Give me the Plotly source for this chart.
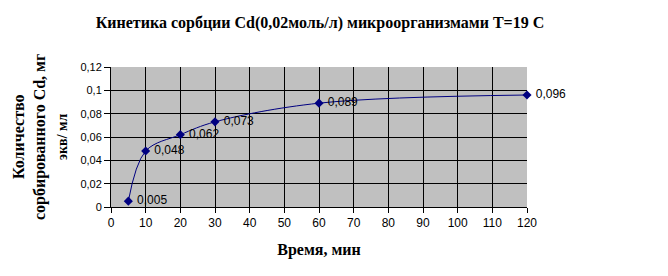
import plotly.graph_objects as go

time_min = [5, 10, 20, 30, 60, 120]
sorbed = [0.005, 0.048, 0.062, 0.073, 0.089, 0.096]
labels = ["0,005", "0,048", "0,062", "0,073", "0,089", "0,096"]
x_ticks = list(range(0, 121, 10))
y_ticks = [0, 0.02, 0.04, 0.06, 0.08, 0.1, 0.12]
y_tick_text = ["0", "0,02", "0,04", "0,06", "0,08", "0,1", "0,12"]

title = "Кинетика сорбции Cd(0,02моль/л) микроорганизмами T=19 C"
x_title = "Время, мин"

fig = go.Figure()
fig.add_trace(go.Scatter(
    x=time_min, y=sorbed, mode="lines+markers+text",
    line=dict(color="#000080", width=1, shape="spline", smoothing=1.0),
    marker=dict(symbol="diamond", size=7, color="#000080"),
    text=[" " + t for t in labels], textposition="middle right",
    textfont=dict(family="Liberation Sans", size=12, color="black"),
    cliponaxis=False, showlegend=False,
))

serif = "Liberation Serif"
fig.update_layout(
    width=668, height=276,
    margin=dict(l=111, r=141, t=67, b=69),
    paper_bgcolor="white", plot_bgcolor="#C0C0C0",
    title=dict(text="<b>" + title + "</b>", x=320 / 668, xanchor="center",
               y=1 - 22 / 276, yanchor="middle",
               font=dict(family=serif, size=16, color="black")),
    font=dict(family="Liberation Sans", size=11, color="black"),
)
fig.update_xaxes(
    range=[0, 120], tickvals=x_ticks, ticktext=[str(v) for v in x_ticks],
    showgrid=True, gridcolor="black", gridwidth=1,
    showline=True, linecolor="black", linewidth=1, mirror=False,
    ticks="outside", ticklen=5, tickcolor="black", zeroline=False,
    tickfont=dict(family="Liberation Sans", size=12, color="black"),
    title=dict(text="<b>" + x_title + "</b>", font=dict(family=serif, size=16, color="black"), standoff=14),
)
fig.update_yaxes(
    range=[0, 0.12], tickvals=y_ticks, ticktext=y_tick_text,
    showgrid=True, gridcolor="black", gridwidth=1,
    showline=True, linecolor="black", linewidth=1,
    ticks="outside", ticklen=6, tickcolor="black", zeroline=False,
    tickfont=dict(family="Liberation Sans", size=11, color="black"),
)

ann = [
    ("<b>Количество</b>", 18, 16),
    ("<b>сорбированного Cd, мг</b>", 40, 16),
    ("<b>экв/ мл</b>", 62, 14),
]
for txt, px, fs in ann:
    fig.add_annotation(text=txt, xref="paper", yref="paper",
                       x=(px - 111) / (668 - 111 - 141), y=1 - (137 - 67) / 140,
                       xanchor="center", yanchor="middle", textangle=-90, showarrow=False,
                       font=dict(family=serif, size=fs, color="black"))

fig.write_html("out.html")
